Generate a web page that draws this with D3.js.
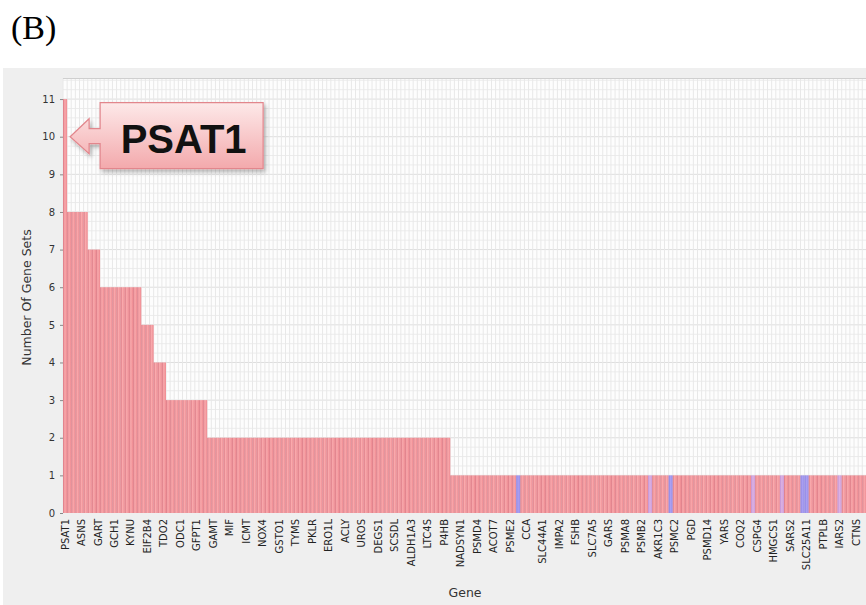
<!DOCTYPE html>
<html>
<head>
<meta charset="utf-8">
<script src="https://cdn.jsdelivr.net/npm/d3@7/dist/d3.min.js"></script>
<style>
  html, body { margin: 0; padding: 0; background: #ffffff; }
  svg { display: block; }
</style>
</head>
<body>
<svg id="chart" width="866" height="605"></svg>
<script>
// Number of gene sets each gene belongs to, sorted descending (one bar per gene)
const geneSetCounts = [
  11, 8, 8, 8, 8, 8, 7, 7, 7,
  6, 6, 6, 6, 6, 6, 6, 6, 6, 6,
  5, 5, 5, 4, 4, 4,
  3, 3, 3, 3, 3, 3, 3, 3, 3, 3,
  2, 2, 2, 2, 2, 2, 2, 2, 2, 2,
  2, 2, 2, 2, 2, 2, 2, 2, 2, 2,
  2, 2, 2, 2, 2, 2, 2, 2, 2, 2,
  2, 2, 2, 2, 2, 2, 2, 2, 2, 2,
  2, 2, 2, 2, 2, 2, 2, 2, 2, 2,
  2, 2, 2, 2, 2, 2, 2, 2, 2,
  1, 1, 1, 1, 1, 1, 1, 1, 1, 1,
  1, 1, 1, 1, 1, 1, 1, 1, 1, 1,
  1, 1, 1, 1, 1, 1, 1, 1, 1, 1,
  1, 1, 1, 1, 1, 1, 1, 1, 1, 1,
  1, 1, 1, 1, 1, 1, 1, 1, 1, 1,
  1, 1, 1, 1, 1, 1, 1, 1, 1, 1,
  1, 1, 1, 1, 1, 1, 1, 1, 1, 1,
  1, 1, 1, 1, 1, 1, 1, 1, 1, 1,
  1, 1, 1, 1, 1, 1, 1, 1, 1, 1,
  1, 1, 1, 1, 1, 1, 1, 1, 1, 1,
  1
];

// Gene names printed under the axis (every fourth bar carries a label)
const labeledGenes = [
  "PSAT1", "ASNS", "GART", "GCH1", "KYNU", "EIF2B4", "TDO2", "ODC1", "GFPT1",
  "GAMT", "MIF", "ICMT", "NOX4", "GSTO1", "TYMS", "PKLR", "ERO1L", "ACLY",
  "UROS", "DEGS1", "SCSDL", "ALDH1A3", "LTC4S", "P4HB", "NADSYN1", "PSMD4",
  "ACOT7", "PSME2", "CCA", "SLC44A1", "IMPA2", "FSHB", "SLC7A5", "GARS",
  "PSMA8", "PSMB2", "AKR1C3", "PSMC2", "PGD", "PSMD14", "YARS", "COQ2",
  "CSPG4", "HMGCS1", "SARS2", "SLC25A11", "PTPLB", "IARS2", "CTNS"
];
const labelEvery = 4;

// Bars drawn in the alternate blue / lavender paints
const blueBars = [110, 147, 179, 180];
const lavenderBars = [142, 167, 174, 188];

const yTicks = [0, 1, 2, 3, 4, 5, 6, 7, 8, 9, 10, 11];
const yMax = 11.56;

const svg = d3.select("#chart");
const W = 866, H = 605;

const plot = { left: 63, top: 78, bottom: 513, right: 866.4 };

const x = d3.scaleBand()
  .domain(d3.range(geneSetCounts.length))
  .range([plot.left, plot.right])
  .padding(0);

const y = d3.scaleLinear()
  .domain([0, yMax])
  .range([plot.bottom, plot.top]);

const defs = svg.append("defs");

function barGradient(id, edge, mid, far) {
  const g = defs.append("linearGradient").attr("id", id)
    .attr("x1", 0).attr("x2", 1).attr("y1", 0).attr("y2", 0);
  g.append("stop").attr("offset", "0%").attr("stop-color", edge);
  g.append("stop").attr("offset", "45%").attr("stop-color", mid);
  g.append("stop").attr("offset", "100%").attr("stop-color", far);
}
barGradient("gPink", "#d97682", "#f9aaad", "#ee8990");
barGradient("gBlue", "#8a80e0", "#aaa0f2", "#978ce8");
barGradient("gLav", "#c090d4", "#dcb2e4", "#cc9cd8");

const boxGrad = defs.append("linearGradient").attr("id", "gBox")
  .attr("x1", 0).attr("x2", 0).attr("y1", 0).attr("y2", 1);
boxGrad.append("stop").attr("offset", "0%").attr("stop-color", "#fde9e9");
boxGrad.append("stop").attr("offset", "100%").attr("stop-color", "#f3a9ac");

const shadow = defs.append("filter").attr("id", "shadow")
  .attr("x", "-10%").attr("y", "-10%").attr("width", "130%").attr("height", "140%");
shadow.append("feDropShadow").attr("dx", 2).attr("dy", 3)
  .attr("stdDeviation", 2).attr("flood-color", "#000").attr("flood-opacity", 0.28);

// Panel label
svg.append("text")
  .attr("x", 11).attr("y", 39)
  .attr("font-family", "Liberation Serif, Times New Roman, serif")
  .attr("font-size", 34)
  .attr("fill", "#000")
  .text("(B)");

// Chart panel background
svg.append("rect")
  .attr("x", 3).attr("y", 68).attr("width", W).attr("height", H - 68)
  .attr("fill", "#efefef");

// Plot area
svg.append("rect")
  .attr("x", plot.left).attr("y", plot.top)
  .attr("width", plot.right - plot.left).attr("height", plot.bottom - plot.top)
  .attr("fill", "#fdfdfd");

// Grid: minor horizontal lines each quarter unit, major at integers
const grid = svg.append("g");
grid.selectAll("line.hm")
  .data(d3.range(0.25, yMax, 0.25).filter(v => v % 1 !== 0))
  .join("line")
  .attr("x1", plot.left).attr("x2", plot.right)
  .attr("y1", d => y(d)).attr("y2", d => y(d))
  .attr("stroke", "#ececec").attr("stroke-width", 1);
grid.selectAll("line.hM")
  .data(yTicks.slice(1))
  .join("line")
  .attr("x1", plot.left).attr("x2", plot.right)
  .attr("y1", d => y(d)).attr("y2", d => y(d))
  .attr("stroke", "#dedede").attr("stroke-width", 1);
grid.selectAll("line.v")
  .data(x.domain())
  .join("line")
  .attr("x1", d => x(d)).attr("x2", d => x(d))
  .attr("y1", plot.top).attr("y2", plot.bottom)
  .attr("stroke", "#e8e8e8").attr("stroke-width", 1);

// Top border of the plot
svg.append("line")
  .attr("x1", plot.left).attr("x2", W)
  .attr("y1", plot.top + 0.5).attr("y2", plot.top + 0.5)
  .attr("stroke", "#cfcfcf");

// Bars
const blueSet = new Set(blueBars), lavSet = new Set(lavenderBars);
svg.append("g").selectAll("rect")
  .data(geneSetCounts.map((v, i) => ({ i, v })))
  .join("rect")
  .attr("x", d => x(d.i))
  .attr("width", x.bandwidth())
  .attr("y", d => y(d.v))
  .attr("height", d => y(0) - y(d.v))
  .attr("fill", d => blueSet.has(d.i) ? "url(#gBlue)" : lavSet.has(d.i) ? "url(#gLav)" : "url(#gPink)");

// Y axis
const yAxis = svg.append("g")
  .attr("transform", `translate(${plot.left},0)`)
  .call(d3.axisLeft(y).tickValues(yTicks).tickSize(3).tickPadding(5));
yAxis.select(".domain").remove();
yAxis.selectAll(".tick line").attr("stroke", "#888");
yAxis.selectAll("text")
  .attr("font-family", "DejaVu Sans, sans-serif")
  .attr("font-size", 10)
  .attr("fill", "#333");

// X axis with rotated gene names
const xAxis = svg.append("g")
  .attr("transform", `translate(0,${plot.bottom})`)
  .call(d3.axisBottom(x)
    .tickValues(labeledGenes.map((g, k) => k * labelEvery))
    .tickFormat(i => labeledGenes[i / labelEvery])
    .tickSize(0));
xAxis.select(".domain").remove();
xAxis.selectAll("text")
  .attr("transform", "rotate(-90)")
  .attr("x", -6).attr("y", 0).attr("dy", "0.35em")
  .style("text-anchor", "end")
  .attr("font-family", "DejaVu Sans, sans-serif")
  .attr("font-size", 10)
  .attr("fill", "#222");

// Axis titles
svg.append("text")
  .attr("transform", `translate(31,${(plot.top + plot.bottom) / 2 + 2}) rotate(-90)`)
  .attr("text-anchor", "middle")
  .attr("font-family", "DejaVu Sans, sans-serif")
  .attr("font-size", 12.5)
  .attr("fill", "#333")
  .text("Number Of Gene Sets");

svg.append("text")
  .attr("x", 465).attr("y", 597)
  .attr("text-anchor", "middle")
  .attr("font-family", "DejaVu Sans, sans-serif")
  .attr("font-size", 12.5)
  .attr("fill", "#333")
  .text("Gene");

// Callout pointing at the top gene
const tipX = x(0) + x.bandwidth() + 3;
const tipY = y(10);
const headX = tipX + 19, boxL = tipX + 30, boxR = tipX + 193;
const callout = d3.path();
callout.moveTo(tipX, tipY);
callout.lineTo(headX, tipY - 18);
callout.lineTo(headX, tipY - 8);
callout.lineTo(boxL, tipY - 8);
callout.lineTo(boxL, tipY - 34);
callout.lineTo(boxR, tipY - 34);
callout.lineTo(boxR, tipY + 32);
callout.lineTo(boxL, tipY + 32);
callout.lineTo(boxL, tipY + 7);
callout.lineTo(headX, tipY + 7);
callout.lineTo(headX, tipY + 17);
callout.closePath();

svg.append("path")
  .attr("d", callout.toString())
  .attr("fill", "url(#gBox)")
  .attr("stroke", "#e2868c")
  .attr("stroke-width", 1.2)
  .attr("filter", "url(#shadow)");

svg.append("text")
  .attr("x", (boxL + boxR) / 2 + 2).attr("y", tipY + 16)
  .attr("text-anchor", "middle")
  .attr("font-family", "Liberation Sans, Arial, sans-serif")
  .attr("font-weight", "bold")
  .attr("font-size", 40)
  .attr("fill", "#111")
  .text("PSAT1");
</script>
</body>
</html>
